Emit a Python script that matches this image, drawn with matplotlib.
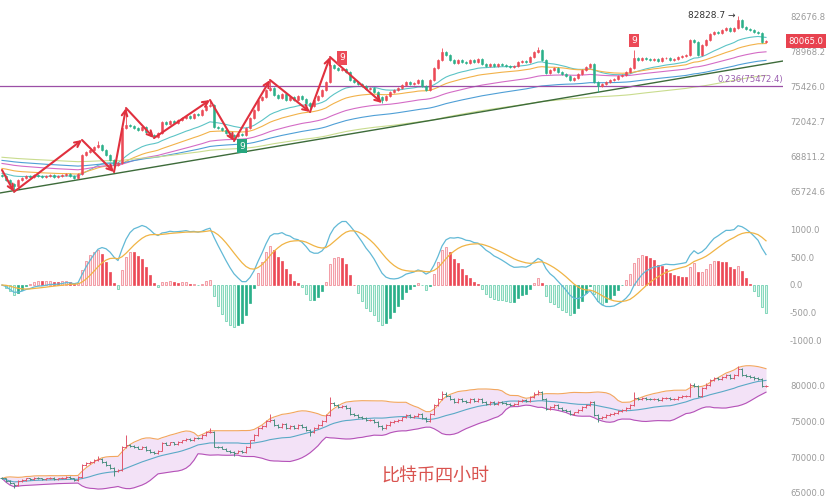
import matplotlib.pyplot as plt
import numpy as np
import pandas as pd
from matplotlib.ticker import NullLocator, NullFormatter

# 4h closes (left to right)
closes = [
    67037, 66685, 66333, 66158, 66685, 66861, 67037, 66949, 67126, 67037,
    66949, 67037, 67126, 66949, 67037, 67126, 67214, 67037, 66861, 67214,
    68919, 69192, 69375, 69650, 69834, 69375, 68919, 68466, 68016, 68196,
    71417, 71700, 71605, 71417, 71228, 71511, 71041, 70760, 70574, 70947,
    71984, 71794, 72079, 71889, 72174, 72365, 72556, 72365, 72747, 72652,
    73132, 73520, 73617, 71511, 71417, 71228, 70947, 70760, 70667, 70854,
    70760, 71417, 72365, 73132, 74104, 74398, 75088, 75286, 74594, 74300,
    74693, 74104, 74398, 74104, 74496, 74202, 73811, 73520, 74104, 74496,
    75088, 75884, 77605, 77298, 77095, 77197, 76892, 76085, 75884, 75684,
    75485, 75187, 75286, 74890, 74398, 74104, 74496, 74890, 75088, 75286,
    75584, 75884, 75684, 75784, 76085, 75485, 75088, 76085, 77298, 78118,
    78947, 78635, 78118, 77810, 78118, 77912, 77810, 78118, 77912, 78221,
    77707, 77502, 77707, 77502, 77707, 77605, 77502, 77400, 77502, 77912,
    78015, 77912, 78428, 78947, 79156, 78118, 76790, 77095, 77298, 76892,
    76689, 76487, 76085, 76286, 76689, 77095, 77400, 77707, 75884, 75485,
    75684, 75884, 76085, 76185, 76487, 76588, 76892, 77298, 78324, 78118,
    78324, 78221, 78118, 78221, 78015, 78324, 78324, 78118, 78221, 78428,
    78531, 78635, 80207, 79996, 78635, 79680, 80207, 80844, 81057, 80951,
    81272, 81486, 81164, 81486, 82350, 81594, 81379, 81272, 81057, 80951,
    79996, 80065,
]
first_open = 67126
last_price = 80065.0

# visible long wicks (candle index -> price)
wick_highs = {24: 70210, 31: 73132, 52: 74104, 67: 76085, 82: 78428,
              110: 79366, 134: 79470, 158: 79156, 184: 82828.7}
wick_lows = {3: 65654, 28: 67390, 58: 70205, 77: 72942, 95: 73811, 149: 74890}
wick_pct = 0.0018

# moving averages and their values at the left edge
ma_periods = [20, 35, 60, 90, 150]
ma_start = [67300, 67750, 68196, 68466, 68739]
ma_colors = ["#5cc4c6", "#f2b24a", "#d46cc6", "#4f9fd6", "#c9dc8e"]

# hand-drawn zigzag (candle index, price)
zigzag_idx = [0, 3, 20, 28, 31, 38, 52, 58, 67, 77, 82, 95]
zigzag_price = [67571, 65654, 70300, 67390, 73325, 70482, 74104, 70205,
                76085, 72942, 78428, 73811]

# TD "9" marks: (index, above?)
td_marks = [(60, False), (85, True), (158, True)]

trend_line = [65556, 78015]
fib_level = 75472.4
fib_label = "0.236(75472.4)"

price_ticks = [82676.8, 78968.2, 75426.0, 72042.7, 68811.2, 65724.6]
macd_ticks = [1000, 500, 0, -500, -1000]
bb_ticks = [80000, 75000, 70000, 65000]

UP = "#ec4a57"
DOWN = "#2bb08a"
LABEL = "#9a9a9a"

W, H = 828, 503
fig = plt.figure(figsize=(W / 100, H / 100), dpi=100)


def px_axes(x0, y0, x1, y1):
    ax = fig.add_axes([x0 / W, 1 - y1 / H, (x1 - x0) / W, (y1 - y0) / H])
    for s in ax.spines.values():
        s.set_visible(False)
    ax.set_xticks([])
    ax.yaxis.tick_right()
    ax.tick_params(axis="y", length=0, pad=5, labelsize=6.1, labelcolor=LABEL)
    ax.set_xlim(-0.5, 195.25)
    return ax


c = pd.Series(closes, dtype=float)
o = c.shift(1).fillna(first_open)
x = np.arange(len(c))
hi = np.maximum(o, c) * (1 + wick_pct)
lo = np.minimum(o, c) * (1 - wick_pct)
for k, v in wick_highs.items():
    hi[k] = v
for k, v in wick_lows.items():
    lo[k] = v
up = (c >= o).values
cols = np.where(up, UP, DOWN)

# ---- price panel ----
ax1 = px_axes(0, 0, 783, 205)
ax1.set_yscale("log")
ax1.set_ylim(64524, 84551)
ax1.set_yticks(price_ticks)
ax1.set_yticklabels([f"{t:.1f}" for t in price_ticks])
ax1.yaxis.set_minor_locator(NullLocator())
ax1.yaxis.set_minor_formatter(NullFormatter())

for p, s, col in zip(ma_periods, ma_start, ma_colors):
    ema = pd.concat([pd.Series([s]), c]).ewm(span=p, adjust=False).mean()
    ax1.plot(x, ema.values[1:], color=col, lw=0.8, zorder=2)

ax1.plot(ax1.get_xlim(), trend_line, color="#3d6b3a", lw=1.0, zorder=2)
ax1.axhline(fib_level, color="#9b4fa6", lw=0.9, zorder=2)
ax1.annotate(fib_label, xy=(1, fib_level), xycoords=("axes fraction", "data"),
             xytext=(0, 1.5), textcoords="offset points", ha="right", va="bottom",
             fontsize=6.1, color="#9b5fb0")

ax1.vlines(x, lo, hi, color=cols, lw=0.6, zorder=3)
ax1.bar(x, (c - o).values, bottom=o.values, width=0.62, color=cols,
        edgecolor=cols, linewidth=0.4, zorder=4)

for i in range(len(zigzag_idx) - 1):
    ax1.annotate("", xy=(zigzag_idx[i + 1], zigzag_price[i + 1]),
                 xytext=(zigzag_idx[i], zigzag_price[i]),
                 arrowprops=dict(arrowstyle="->", color="#e0303e", lw=1.5,
                                 mutation_scale=10, shrinkA=0, shrinkB=0),
                 zorder=5)

for idx, above in td_marks:
    y = hi[idx] if above else lo[idx]
    ax1.annotate("9", xy=(idx, y), xytext=(0, 7 if above else -7),
                 textcoords="offset points", ha="center", va="center",
                 fontsize=6.5, color="white",
                 bbox=dict(boxstyle="square,pad=0.25",
                           fc=UP if above else "#26a67e", ec="none"),
                 zorder=6)

peak = int(np.argmax(hi))
ax1.annotate(f"{hi[peak]:.1f} →", xy=(peak, hi[peak]), xytext=(-2, 0),
             textcoords="offset points", ha="right", va="center",
             fontsize=6.5, color="#333333")

ax1.annotate(f"{last_price:.1f}", xy=(1, last_price),
             xycoords=("axes fraction", "data"), xytext=(4, 0),
             textcoords="offset points", ha="left", va="center",
             fontsize=6.1, color="white",
             bbox=dict(boxstyle="square,pad=0.3", fc="#e8424f", ec="none"),
             annotation_clip=False, zorder=10)

# ---- MACD panel ----
ax2 = px_axes(0, 213, 783, 350)
ax2.set_ylim(-1161, 1286)
ax2.set_yticks(macd_ticks)
ax2.set_yticklabels([f"{t:.1f}" for t in macd_ticks])

dif = c.ewm(span=12, adjust=False).mean() - c.ewm(span=26, adjust=False).mean()
dea = dif.ewm(span=9, adjust=False).mean()
hist = 2 * (dif - dea)
prev = hist.shift(1).fillna(0)
face, edge = [], []
for h, p in zip(hist, prev):
    if h >= 0:
        if h >= p:
            face.append("#fde3e6"); edge.append("#ef7d88")
        else:
            face.append(UP); edge.append(UP)
    else:
        if h <= p:
            face.append("#d9f4ea"); edge.append("#5ccaa6")
        else:
            face.append(DOWN); edge.append(DOWN)
ax2.bar(x, hist.values, width=0.72, color=face, edgecolor=edge, linewidth=0.5)
ax2.plot(x, dif.values, color="#62b9d6", lw=0.9)
ax2.plot(x, dea.values, color="#f0b445", lw=0.9)

# ---- Bollinger panel ----
ax3 = px_axes(0, 355, 783, 503)
ax3.set_ylim(63597, 84346)
ax3.set_yticks(bb_ticks)
ax3.set_yticklabels([f"{t:.1f}" for t in bb_ticks])

mid = c.rolling(20, min_periods=1).mean()
sd = c.rolling(20, min_periods=1).std(ddof=0).fillna(0)
upper = mid + 2 * sd
lower = mid - 2 * sd
ax3.fill_between(x, lower, upper, color="#f3e2f7", lw=0)
ax3.plot(x, upper, color="#f2a65e", lw=0.8)
ax3.plot(x, lower, color="#b552b8", lw=0.8)
ax3.plot(x, mid, color="#5aa9c6", lw=0.8)

bar_cols = np.where(up, "#e0566c", "#4a8f80")
ax3.vlines(x, lo, hi, color=bar_cols, lw=0.7)
ax3.hlines(o, x - 0.45, x, color=bar_cols, lw=0.7)
ax3.hlines(c, x, x + 0.45, color=bar_cols, lw=0.7)

fig.text(435 / W, 1 - 477 / H, "比特币四小时", ha="center", va="center",
         fontsize=13, color="#d9534f",
         family=["Noto Sans CJK SC", "DejaVu Sans"])

fig.savefig("out.png", dpi=100)
